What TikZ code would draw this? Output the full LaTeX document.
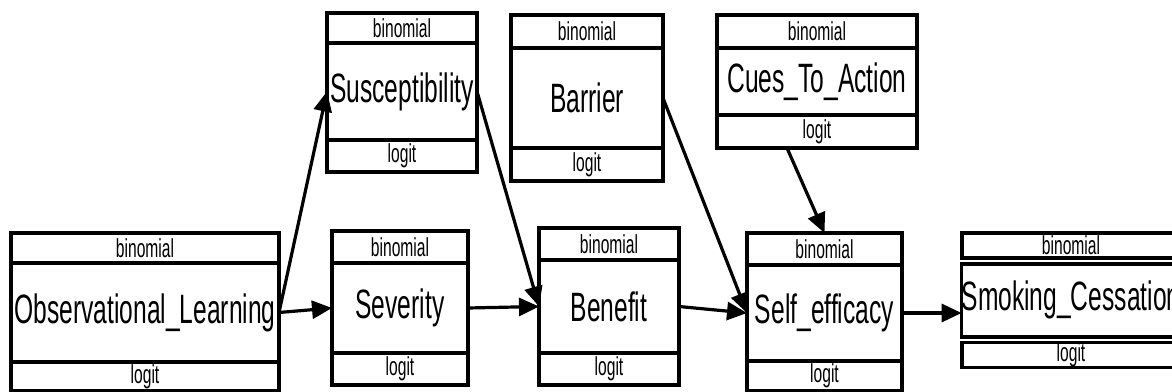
\documentclass[tikz,border=0pt]{standalone}
\usepackage{fontspec}
\setmainfont{Liberation Sans}
\newfontfamily\narrowfont[FakeStretch=0.6]{Liberation Sans}
\usetikzlibrary{positioning,arrows.meta}

\tikzset{
  part/.style={draw,line width=1.8pt,inner sep=0pt,outer sep=0pt,align=center},
  varbox/.style 2 args={part,minimum width=#1,minimum height=#2,font=\narrowfont\fontsize{20.5}{22}\selectfont},
  linkbox/.style 2 args={part,minimum width=#1,minimum height=#2,font=\narrowfont\fontsize{13}{14}\selectfont},
  link/.style={line width=1.6pt,-{Triangle[length=10pt,width=9pt]}}
}

\begin{document}
\begin{tikzpicture}[x=0.5pt,y=-0.5pt]
\useasboundingbox (0,0) rectangle (1172,391);
% variables, middle part at pixel coordinates
\node[varbox={134pt}{49.5pt}] (obs) at (145,312.5) {Observational\_Learning};
\node[linkbox={134pt}{15pt},above=0pt of obs] (obsfam) {binomial};
\node[linkbox={134pt}{14.5pt},below=0pt of obs] (obslink) {logit};

\node[varbox={75pt}{48.5pt}] (sus) at (402,91.5) {Susceptibility};
\node[linkbox={75pt}{15pt},above=0pt of sus] (susfam) {binomial};
\node[linkbox={75pt}{16pt},below=0pt of sus] (suslink) {logit};

\node[varbox={76pt}{50pt}] (bar) at (587,98) {Barrier};
\node[linkbox={76pt}{16.5pt},above=0pt of bar] (barfam) {binomial};
\node[linkbox={76pt}{16.5pt},below=0pt of bar] (barlink) {logit};

\node[varbox={100pt}{33.5pt}] (cue) at (817,81.5) {Cues\_To\_Action};
\node[linkbox={100pt}{16.5pt},above=0pt of cue] (cuefam) {binomial};
\node[linkbox={100pt}{16.5pt},below=0pt of cue] (cuelink) {logit};

\node[varbox={68pt}{45pt}] (sev) at (400,308) {Severity};
\node[linkbox={68pt}{16pt},above=0pt of sev] (sevfam) {binomial};
\node[linkbox={68pt}{16pt},below=0pt of sev] (sevlink) {logit};

\node[varbox={70pt}{46.5pt}] (ben) at (609,306.5) {Benefit};
\node[linkbox={70pt}{16pt},above=0pt of ben] (benfam) {binomial};
\node[linkbox={70pt}{16pt},below=0pt of ben] (benlink) {logit};

\node[varbox={77.5pt}{48pt}] (self) at (824.5,313) {Self\_efficacy};
\node[linkbox={77.5pt}{16pt},above=0pt of self] (selffam) {binomial};
\node[linkbox={77.5pt}{15pt},below=0pt of self] (selflink) {logit};

\node[varbox={109pt}{36.5pt}] (smk) at (1071,300.25) {Smoking\_Cessation};
\node[linkbox={109pt}{12.5pt},above=2.8pt of smk] (smkfam) {binomial};
\node[linkbox={109pt}{12.5pt},below=2.8pt of smk] (smklink) {logit};

% edges
\draw[link] (obs.east) -- (sus.west);
\draw[link] (obs.east) -- (sev.west);
\draw[link] (sus.east) -- (ben.west);
\draw[link] (sev.east) -- (ben.west);
\draw[link] (bar.east) -- (self.west);
\draw[link] (ben.east) -- (self.west);
\draw[link] ([xshift=-15pt]cuelink.south) -- (selffam.north);
\draw[link] (self.east) -- (self.east -| smk.west);
\end{tikzpicture}
\end{document}
